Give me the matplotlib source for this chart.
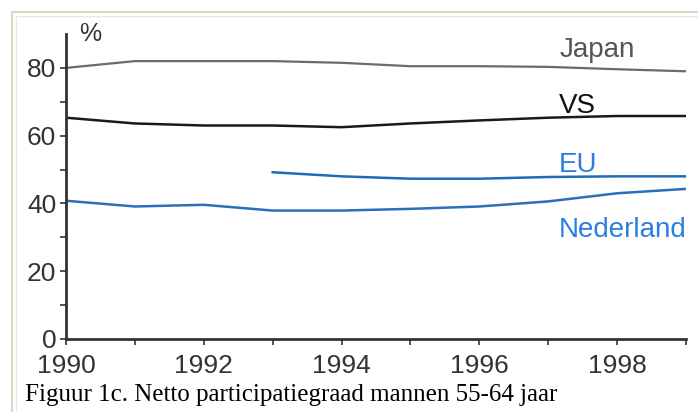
import numpy as np
import matplotlib.pyplot as plt
from matplotlib.patches import Rectangle

# Data
jaren = [1990, 1991, 1992, 1993, 1994, 1995, 1996, 1997, 1998, 1999]
japan = [80, 82, 82, 82, 81.5, 80.5, 80.5, 80.3, 79.6, 79]
vs = [65.3, 63.6, 63, 63, 62.5, 63.6, 64.5, 65.3, 65.8, 65.8]
eu_jaren = [1993, 1994, 1995, 1996, 1997, 1998, 1999]
eu = [49.2, 48, 47.3, 47.3, 47.8, 48, 48]
nederland = [40.8, 39.1, 39.6, 37.9, 37.9, 38.4, 39.1, 40.6, 43, 44.3]

plt.rcParams['font.family'] = 'Liberation Sans'

W, H = 698, 412
fig = plt.figure(figsize=(W / 100, H / 100), dpi=100)
fig.patch.set_facecolor('white')

# beige frame round the picture
fig.patches.append(Rectangle((12 / W, -0.05), 1.0, 1 - 12 / H + 0.05, transform=fig.transFigure,
                             fill=False, edgecolor='#ddd8c4', linewidth=1.5))
fig.patches.append(Rectangle((16 / W, -0.05), 1.0, 1 - 16 / H + 0.05, transform=fig.transFigure,
                             fill=False, edgecolor='#ece9dc', linewidth=1))

ax = fig.add_axes([66 / W, 1 - 339 / H, 620 / W, 305 / H])
ax.plot(jaren, japan, color='#6b6b6b', linewidth=1.6)
ax.plot(jaren, vs, color='#1a1a1a', linewidth=1.8)
ax.plot(eu_jaren, eu, color='#1f6bb8', linewidth=1.8)
ax.plot(jaren, nederland, color='#2a6fb8', linewidth=1.8)

ax.set_xlim(1990, 1999)
ax.set_ylim(0, 90)
ax.set_xticks(range(1990, 2000))
ax.set_xticklabels([str(j) if j % 2 == 0 else '' for j in range(1990, 2000)])
ax.set_yticks(range(0, 90, 10))
ax.set_yticklabels([str(v) if v % 20 == 0 else '' for v in range(0, 90, 10)])
ax.tick_params(labelsize=19, colors='#333333', length=4, width=1.2)
ax.tick_params(axis='y', pad=3)
ax.tick_params(axis='x', pad=7)

for k in ['top', 'right']:
    ax.spines[k].set_visible(False)
for k in ['left', 'bottom']:
    ax.spines[k].set_color('#333333')
    ax.spines[k].set_linewidth(2)

ax.text(1990.35, 93.5, '%', fontsize=18, color='#333333', ha='center', va='top', clip_on=False)
ax.text(1997.16, 83.2, 'Japan', fontsize=20, color='#555555', va='baseline')
ax.text(1997.16, 66.7, 'VS', fontsize=20, color='#111111', va='baseline')
ax.text(1997.16, 49.4, 'EU', fontsize=20, color='#2a7de1', va='baseline')
ax.text(1997.16, 30.1, 'Nederland', fontsize=20, color='#2a7de1', va='baseline', clip_on=False)

fig.text(25 / W, 1 - 395 / H, 'Figuur 1c. Netto participatiegraad mannen 55-64 jaar',
         fontsize=18, family='Liberation Serif', color='black', va='center')

fig.savefig('out.png', dpi=100)
